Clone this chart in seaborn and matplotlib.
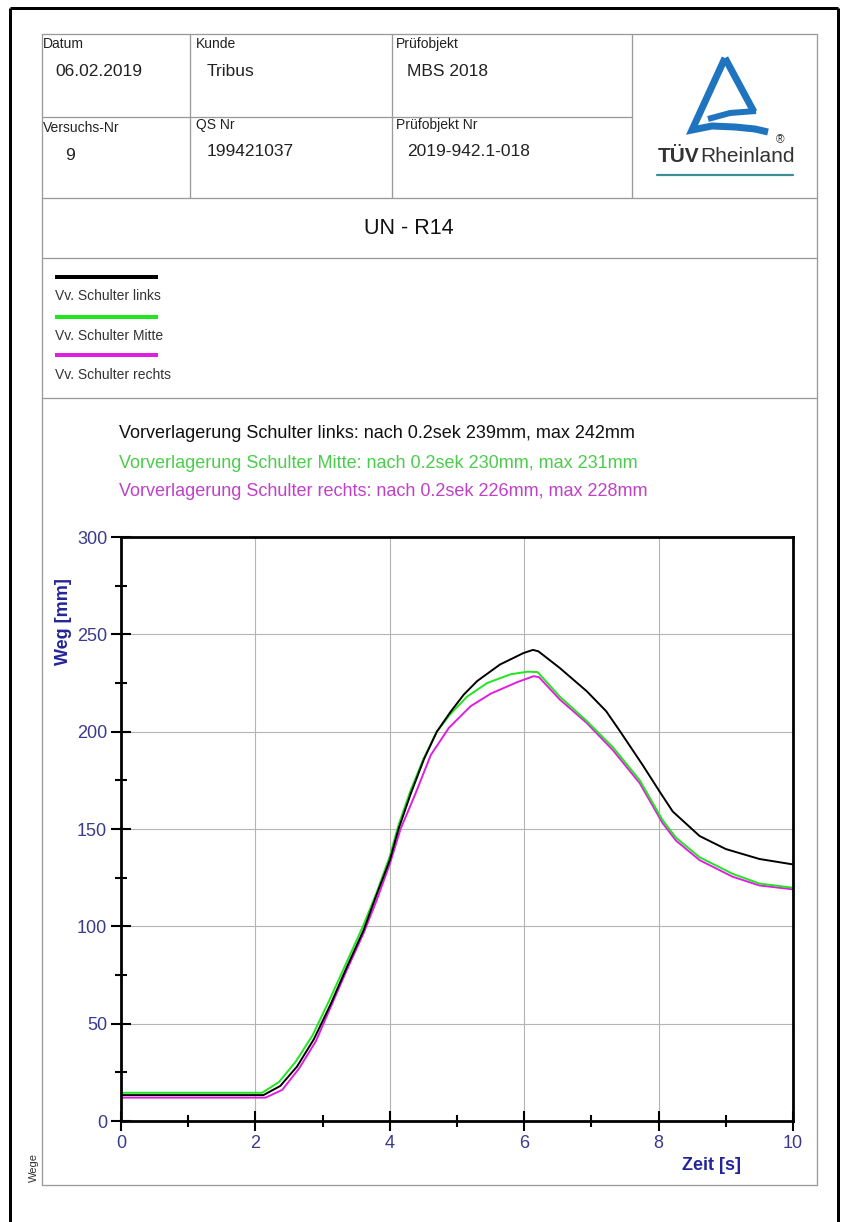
import numpy as np
import pandas as pd
import matplotlib
matplotlib.use("Agg")
import matplotlib.pyplot as plt
import seaborn as sns
from matplotlib.ticker import MultipleLocator

# ---------------- data ----------------
header_labels = ["Datum", "Kunde", "Prüfobjekt", "Versuchs-Nr", "QS Nr", "Prüfobjekt Nr"]
header_values = ["06.02.2019", "Tribus", "MBS 2018", "9", "199421037", "2019-942.1-018"]
page_title = "UN - R14"
series_names = ["Vv. Schulter links", "Vv. Schulter Mitte", "Vv. Schulter rechts"]
series_colors = ["#000000", "#1fe61f", "#e01ee0"]
annotation_texts = [
    "Vorverlagerung Schulter links: nach 0.2sek 239mm, max 242mm",
    "Vorverlagerung Schulter Mitte: nach 0.2sek 230mm, max 231mm",
    "Vorverlagerung Schulter rechts: nach 0.2sek 226mm, max 228mm",
]
annotation_colors = ["#111111", "#4ccc4c", "#c040c8"]

time_links = [0, 1.0, 2.12, 2.37, 2.62, 2.87, 3.12, 3.36, 3.61, 3.80, 4.0, 4.13, 4.31, 4.51,
              4.70, 4.90, 5.10, 5.30, 5.64, 5.99, 6.13, 6.21, 6.53, 6.93, 7.22, 7.43, 7.76,
              8.01, 8.21, 8.61, 9.00, 9.50, 10.0]
weg_links = [13.3, 13.3, 13.3, 18, 28, 42, 60, 79, 98, 116, 134, 150, 168, 186,
             200, 210, 219, 226, 234.5, 240.4, 242, 241.3, 232.7, 220.8, 210.5, 200, 183,
             169.5, 159, 146.4, 139.7, 134.6, 131.8]

time_mitte = [0, 1.0, 2.10, 2.35, 2.60, 2.85, 3.10, 3.35, 3.60, 3.80, 4.0, 4.12, 4.30, 4.50,
              4.70, 4.90, 5.15, 5.45, 5.80, 6.05, 6.20, 6.53, 6.93, 7.32, 7.72, 8.06, 8.26,
              8.61, 9.10, 9.50, 10.0]
weg_mitte = [14.5, 14.5, 14.5, 20, 30.5, 44, 62, 81, 100, 117, 136, 151, 169, 186,
             200, 209, 218, 225, 229.5, 230.8, 230.6, 218, 205.5, 192, 175, 154.5, 145.5,
             135.5, 127, 122, 119.8]

time_rechts = [0, 1.0, 2.15, 2.40, 2.65, 2.90, 3.12, 3.36, 3.61, 3.80, 4.0, 4.16, 4.38, 4.61,
               4.88, 5.20, 5.50, 5.90, 6.14, 6.22, 6.53, 6.93, 7.32, 7.72, 8.06, 8.26, 8.61,
               9.10, 9.50, 10.0]
weg_rechts = [12, 12, 12, 16, 27, 41, 58.5, 77.5, 96.5, 113, 132, 150, 168, 188,
              202, 213, 219.5, 225.5, 228.5, 228, 216.5, 204.5, 190.5, 173.5, 153, 144, 134,
              125.5, 121, 119]

x_ticks = [0, 2, 4, 6, 8, 10]
y_ticks = [0, 50, 100, 150, 200, 250, 300]

# ---------------- style ----------------
sns.set_theme(style="white")
plt.rcParams["font.family"] = ["Liberation Sans", "DejaVu Sans"]

W, H = 842, 1222
fig = plt.figure(figsize=(W / 100, H / 100), dpi=100)
fig.patch.set_facecolor("white")

bg = fig.add_axes([0, 0, 1, 1])
bg.set_xlim(0, W)
bg.set_ylim(H, 0)
bg.axis("off")
bg.set_zorder(0)

def pt(px):
    return px * 0.72

# outer black frame
bg.plot([10, 10], [8, H], color="black", lw=pt(3), solid_capstyle="butt")
bg.plot([10, 838], [8, 8], color="black", lw=pt(3), solid_capstyle="butt")
bg.plot([838, 838], [8, H], color="black", lw=pt(3), solid_capstyle="butt")

# inner table (gray)
gcol = "#9a9a9a"
glw = pt(1.3)
L, R = 42, 817
for yy in [34, 198, 258, 398, 1185]:
    bg.plot([L, R], [yy, yy], color=gcol, lw=glw)
bg.plot([L, L], [34, 1185], color=gcol, lw=glw)
bg.plot([R, R], [34, 1185], color=gcol, lw=glw)
bg.plot([L, 632], [117, 117], color=gcol, lw=glw)
for xx in [190, 392, 632]:
    bg.plot([xx, xx], [34, 198], color=gcol, lw=glw)

# header text
label_pos = [(43, 44), (196, 44), (396, 44), (43, 128), (196, 125), (396, 125)]
value_pos = [(55, 71), (207, 71), (407, 71), (65, 155), (207, 152), (407, 152)]
for (lx, ly), txt in zip(label_pos, header_labels):
    bg.text(lx, ly, txt, fontsize=10, color="#222222", ha="left", va="center")
for (vx, vy), txt in zip(value_pos, header_values):
    bg.text(vx, vy, txt, fontsize=12.5, color="#222222", ha="left", va="center")

# logo
blue = "#1f74bf"
bg.plot([725, 692, 712, 735, 755, 768], [58, 130, 126, 127, 129, 132], color=blue, lw=pt(7),
        solid_joinstyle="miter", solid_capstyle="butt")
bg.plot([725, 754], [58, 112], color=blue, lw=pt(7), solid_capstyle="butt")
bg.plot([708, 730, 756], [119, 113, 111], color=blue, lw=pt(6), solid_capstyle="butt")
t1 = bg.text(658, 156, "TÜV", fontsize=15, fontweight="bold", color="#333333",
             ha="left", va="center")
fig.canvas.draw()
ext = t1.get_window_extent(renderer=fig.canvas.get_renderer())
bg.text(ext.x1 + 0.5, 156, "Rheinland", fontsize=15, color="#333333", ha="left", va="center")
bg.text(780, 140, "®", fontsize=8.5, color="#333333", ha="center", va="center")
bg.plot([657, 793], [175, 175], color="#3c8c96", lw=pt(2.2))

# title
bg.text(409, 229, page_title, fontsize=15.5, color="#111111", ha="center", va="center")

# legend block
leg_line_y = [277, 317, 355]
leg_text_y = [296, 336, 375]
for c, ly, ty, name in zip(series_colors, leg_line_y, leg_text_y, series_names):
    bg.plot([55, 158], [ly, ly], color=c, lw=pt(4), solid_capstyle="butt")
    bg.text(55, ty, name, fontsize=10, color="#333333", ha="left", va="center")

# annotation lines
for txt, c, yy in zip(annotation_texts, annotation_colors, [434, 463, 492]):
    bg.text(119, yy, txt, fontsize=13, color=c, ha="left", va="center")

# small rotated label
bg.text(34, 1168, "Wege", fontsize=8, color="#333333", rotation=90, ha="center", va="center")

# ---------------- chart ----------------
ax_l, ax_r, ax_t, ax_b = 121, 793, 537, 1121
ax = fig.add_axes([ax_l / W, (H - ax_b) / H, (ax_r - ax_l) / W, (ax_b - ax_t) / H])
ax.set_zorder(2)
ax.patch.set_alpha(0)

df = pd.concat([
    pd.DataFrame({"Zeit": time_rechts, "Weg": weg_rechts, "Kanal": series_names[2]}),
    pd.DataFrame({"Zeit": time_mitte, "Weg": weg_mitte, "Kanal": series_names[1]}),
    pd.DataFrame({"Zeit": time_links, "Weg": weg_links, "Kanal": series_names[0]}),
], ignore_index=True)
palette = dict(zip(series_names, series_colors))
sns.lineplot(data=df, x="Zeit", y="Weg", hue="Kanal", palette=palette, ax=ax,
             linewidth=1.4, legend=False, estimator=None, sort=False)

ax.set_xlim(0, 10)
ax.set_ylim(0, 300)
ax.xaxis.set_major_locator(plt.FixedLocator(x_ticks))
ax.yaxis.set_major_locator(plt.FixedLocator(y_ticks))
ax.xaxis.set_minor_locator(MultipleLocator(1))
ax.yaxis.set_minor_locator(MultipleLocator(25))
ax.grid(True, which="major", color="#b4b4b4", lw=0.8)
ax.set_axisbelow(True)
for s in ax.spines.values():
    s.set_color("black")
    s.set_linewidth(2)
ax.tick_params(which="major", direction="inout", length=14, width=1.5, color="black",
               labelsize=13, labelcolor="#3a3a8c", pad=3, left=True, bottom=True)
ax.tick_params(which="minor", direction="inout", length=8, width=1.5, color="black",
               left=True, bottom=True)
ax.set_xlabel("Zeit [s]", fontsize=13, fontweight="bold", color="#24249a")
ax.set_ylabel("Weg [mm]", fontsize=13, fontweight="bold", color="#24249a")
ax.xaxis.set_label_coords((712 - ax_l) / (ax_r - ax_l), -(1166 - ax_b) / (ax_b - ax_t))
ax.yaxis.set_label_coords((63 - ax_l) / (ax_r - ax_l), (ax_b - 622) / (ax_b - ax_t))
ax.xaxis.label.set_va("center")
ax.yaxis.label.set_va("center")

fig.savefig("out.png", dpi=100)
